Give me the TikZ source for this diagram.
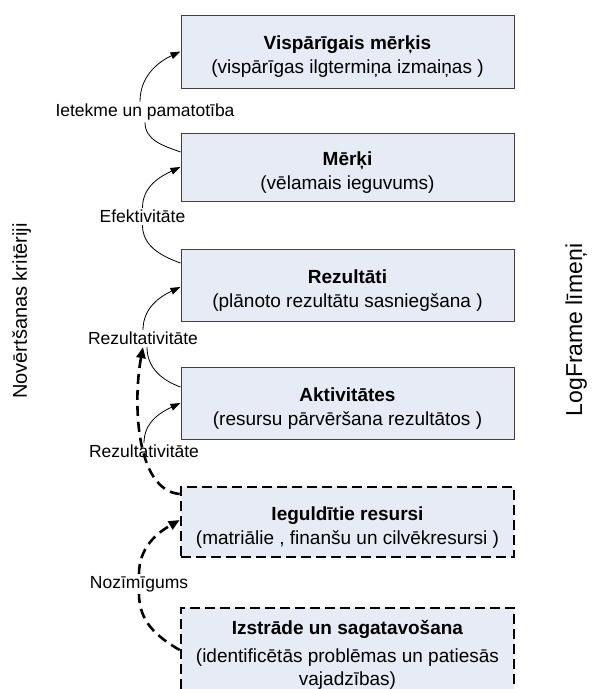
\documentclass[tikz,border=0pt]{standalone}
\usepackage{fontspec}
\setmainfont{Liberation Sans}
\usetikzlibrary{arrows.meta,calc}
\definecolor{boxfill}{HTML}{E6EBF5}
\definecolor{boxline}{HTML}{404040}
\tikzset{
  stagebox/.style={draw=boxline, line width=1pt, fill=boxfill, minimum width=333pt,
    align=center, font=\fontsize{19}{23.5}\selectfont, inner sep=0pt, text height=48pt},
  dashbox/.style={stagebox, draw=black, line width=2.6pt, dash pattern=on 10pt off 5pt},
  critlabel/.style={font=\fontsize{17.5}{21}\selectfont, inner sep=2pt},
  thinline/.style={draw=black, line width=0.8pt},
  thickdash/.style={draw=black, line width=2.6pt, dash pattern=on 10pt off 6pt},
  tipthin/.style={-{Triangle[length=10pt,width=7pt]}},
  tipthick/.style={-{Triangle[length=11pt,width=9pt]}},
}
\begin{document}
\begin{tikzpicture}[x=1pt,y=1pt]
\useasboundingbox (0,0) rectangle (592,-689);
\clip (0,0) rectangle (592,-689);

% boxes
\node[stagebox, minimum height=73pt] (b1) at (347.5,-51.5)
  {\textbf{Vispārīgais mērķis}\\(vispārīgas ilgtermiņa izmaiņas )};
\node[stagebox, minimum height=68pt] (b2) at (347.5,-167)
  {\textbf{Mērķi}\\(vēlamais ieguvums)};
\node[stagebox, minimum height=72pt] (b3) at (347.5,-285)
  {\textbf{Rezultāti}\\(plānoto rezultātu sasniegšana )};
\node[stagebox, minimum height=72pt] (b4) at (347.5,-403)
  {\textbf{Aktivitātes}\\(resursu pārvēršana rezultātos )};
\node[dashbox, minimum height=70pt] (b5) at (347.5,-522)
  {\textbf{Ieguldītie resursi}\\(matriālie , finanšu un cilvēkresursi )};
\node[dashbox, minimum height=88pt, text height=71.5pt] (b6) at (347.5,-652)
  {\textbf{Izstrāde un sagatavošana}\\[4pt](identificētās problēmas un patiesās\\vajadzības)};

% criteria labels
\node[critlabel] (l1) at (145,-112) {Ietekme un pamatotība};
\node[critlabel] (l2) at (142.5,-216.5) {Efektivitāte};
\node[critlabel] (l3) at (143,-338.5) {Rezultativitāte};
\node[critlabel] (l4) at (144,-451.5) {Rezultativitāte};
\node[critlabel] (l5) at (139,-584) {Nozīmīgums};

% side titles
\node[rotate=90, anchor=base, font=\fontsize{20}{24}\selectfont] (vl) at (27,-311)
  {Novērtšanas kritēriji};
\node[rotate=90, anchor=base, font=\fontsize{23}{27}\selectfont] (vr) at (582,-330)
  {LogFrame līmeņi};

% thin connectors
\draw[thinline] ([yshift=15pt]b2.west) to[out=160,in=-90] (l1.south);
\draw[thinline,tipthin] ([xshift=-5pt]l1.north) to[out=90,in=205] (b1.west);

\draw[thinline] ([yshift=22pt]b3.west) to[out=160,in=-90] (l2.south);
\draw[thinline,tipthin] (l2.north) to[out=90,in=205] (b2.west);

\draw[thinline] ([yshift=16pt]b4.west) to[out=160,in=-90] ([xshift=4pt]l3.south);
\draw[thinline,tipthin] (l3.north) to[out=90,in=205] ([yshift=-2pt]b3.west);

\draw[thinline,tipthin] (l4.north) to[out=90,in=205] (b4.west);

% thick dashed connectors
\draw[thickdash,tipthick] ([yshift=28pt]b5.west) .. controls (135,-490) and (133,-400) .. (l3.south);

\draw[thickdash] ([yshift=2pt]b6.west) to[out=150,in=-90] (l5.south);
\draw[thickdash,tipthick] (l5.north) to[out=90,in=210] ([yshift=2pt]b5.west);
\end{tikzpicture}
\end{document}
